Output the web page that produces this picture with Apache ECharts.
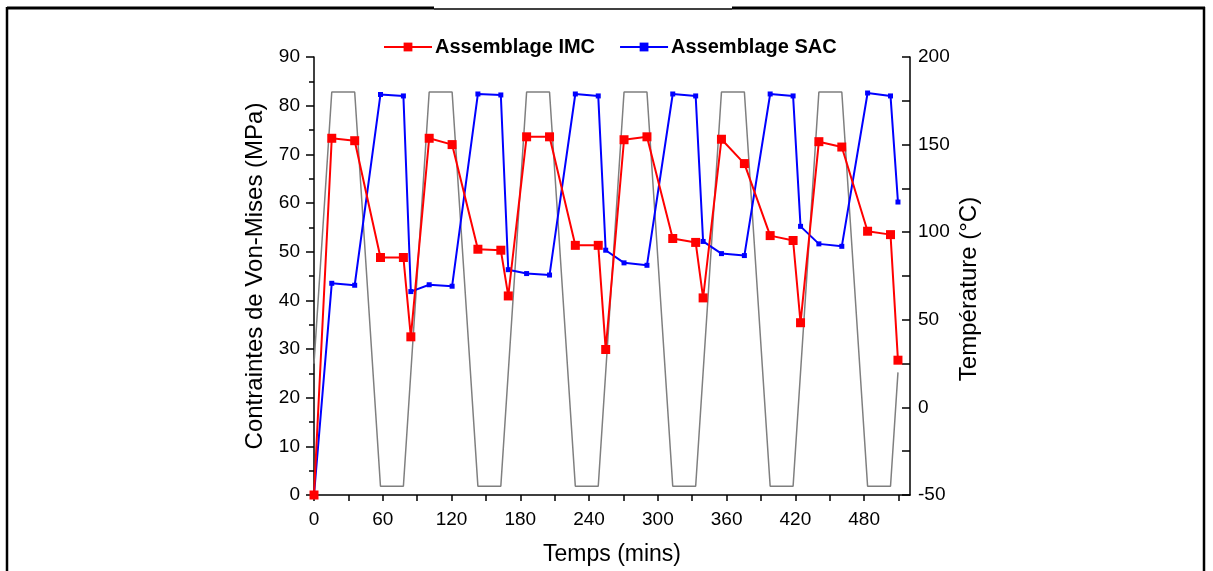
<!DOCTYPE html>
<html>
<head>
<meta charset="utf-8">
<script src="https://cdn.jsdelivr.net/npm/echarts@6/dist/echarts.min.js"></script>
<style>
  html, body { margin: 0; padding: 0; background: #ffffff; }
  #chart { width: 1213px; height: 571px; }
</style>
</head>
<body>
<div id="chart"></div>
<script>
// temps des mesures (mins)
var sampleTime = [0, 15.5, 35.5, 58, 78, 84.5, 100.5, 120.5, 143, 163, 169.5, 185.5, 205.5, 228, 248, 254.5,
  270.5, 290.5, 313, 333, 339.5, 355.5, 375.5, 398, 418, 424.5, 440.5, 460.5, 483, 503, 509.5];
// contraintes de Von-Mises (MPa)
var imcValues = [0, 73.3, 72.8, 48.8, 48.8, 32.5, 73.3, 72.0, 50.5, 50.3, 40.9, 73.6, 73.6, 51.3, 51.3, 29.9,
  73.0, 73.6, 52.7, 51.9, 40.5, 73.1, 68.1, 53.3, 52.3, 35.4, 72.6, 71.5, 54.2, 53.5, 27.7];
var sacValues = [0, 43.5, 43.1, 82.3, 82.0, 41.8, 43.2, 42.9, 82.4, 82.2, 46.3, 45.5, 45.2, 82.4, 82.0, 50.3,
  47.7, 47.2, 82.4, 82.0, 52.1, 49.6, 49.2, 82.4, 82.0, 55.2, 51.6, 51.1, 82.6, 82.0, 60.2];
// profil de temperature (cycle thermique)
var tempTime = [0, 15.5, 35.5, 58, 78, 100.5, 120.5, 143, 163, 185.5, 205.5, 228, 248, 270.5, 290.5, 313, 333,
  355.5, 375.5, 398, 418, 440.5, 460.5, 483, 503, 509.5];
var tempValues = [25, 180, 180, -45, -45, 180, 180, -45, -45, 180, 180, -45, -45, 180, 180, -45, -45,
  180, 180, -45, -45, 180, 180, -45, -45, 20];

var seriesNames = ["Assemblage IMC", "Assemblage SAC"];

function pairs(xs, ys) {
  var out = [];
  for (var i = 0; i < xs.length; i++) out.push([xs[i], ys[i]]);
  return out;
}

var font = "'Liberation Sans', Arial, sans-serif";
var myChart = echarts.init(document.getElementById("chart"));

myChart.setOption({
  animation: false,
  backgroundColor: "#ffffff",
  grid: { left: 314, right: 303, top: 57, bottom: 69 },
  legend: {
    data: seriesNames,
    left: 383,
    top: 37,
    padding: 0,
    itemWidth: 48,
    itemHeight: 11,
    itemGap: 24,
    textStyle: { fontFamily: font, fontWeight: "bold", fontSize: 20, color: "#000", padding: [0, 0, 0, -2] }
  },
  xAxis: {
    type: "value",
    min: 0,
    max: 520,
    interval: 30,
    name: "Temps (mins)",
    nameLocation: "middle",
    nameGap: 48,
    nameTextStyle: { fontFamily: font, fontSize: 23, color: "#000" },
    axisLine: { onZero: false, lineStyle: { color: "#000", width: 1.5 } },
    axisTick: { length: 6, lineStyle: { color: "#000", width: 1.5 } },
    axisLabel: {
      margin: 15,
      fontFamily: font,
      fontSize: 19,
      color: "#000",
      showMaxLabel: false,
      formatter: function (v) { return v % 60 === 0 ? String(v) : ""; }
    },
    splitLine: { show: false }
  },
  yAxis: [
    {
      type: "value",
      min: 0,
      max: 90,
      interval: 10,
      name: "Contraintes de Von-Mises (MPa)",
      nameLocation: "middle",
      nameGap: 47,
      nameTextStyle: { fontFamily: font, fontSize: 24, color: "#000" },
      axisLine: { show: true, lineStyle: { color: "#000", width: 1.5 } },
      axisTick: { length: 8, lineStyle: { color: "#000", width: 1.5 } },
      minorTick: { show: true, splitNumber: 2, length: 5, lineStyle: { color: "#000", width: 1.5 } },
      axisLabel: { margin: 14, fontFamily: font, fontSize: 19, color: "#000" },
      splitLine: { show: false }
    },
    {
      type: "value",
      position: "right",
      min: -50,
      max: 200,
      interval: 25,
      name: "Température (°C)",
      nameLocation: "middle",
      nameGap: 47,
      nameTextStyle: { fontFamily: font, fontSize: 24, color: "#000", padding: [0, 26, 0, 0] },
      axisLine: { show: true, lineStyle: { color: "#000", width: 1.5 } },
      axisTick: { inside: true, length: 8, lineStyle: { color: "#000", width: 1.5 } },
      axisLabel: {
        margin: 8,
        fontFamily: font,
        fontSize: 19,
        color: "#000",
        formatter: function (v) { return v % 50 === 0 ? String(v) : ""; }
      },
      splitLine: { show: false }
    }
  ],
  series: [
    {
      name: "Température",
      type: "line",
      yAxisIndex: 1,
      data: pairs(tempTime, tempValues),
      showSymbol: false,
      symbol: "none",
      lineStyle: { color: "#7f7f7f", width: 1.5 },
      z: 1
    },
    {
      name: seriesNames[0],
      type: "line",
      data: pairs(sampleTime, imcValues),
      symbol: "rect",
      symbolSize: 9,
      itemStyle: { color: "#ff0000" },
      lineStyle: { color: "#ff0000", width: 2 },
      z: 3
    },
    {
      name: seriesNames[1],
      type: "line",
      data: pairs(sampleTime, sacValues),
      symbol: "rect",
      symbolSize: 5,
      itemStyle: { color: "#0000ff" },
      lineStyle: { color: "#0000ff", width: 2 },
      z: 2
    }
  ],
  graphic: [
    { type: "line", shape: { x1: 7, y1: 8, x2: 434, y2: 8 }, style: { stroke: "#000", lineWidth: 3 } },
    { type: "line", shape: { x1: 434, y1: 9, x2: 732, y2: 9 }, style: { stroke: "#000", lineWidth: 1.5 } },
    { type: "line", shape: { x1: 732, y1: 8, x2: 1205, y2: 8 }, style: { stroke: "#000", lineWidth: 3 } },
    { type: "line", shape: { x1: 7, y1: 7, x2: 7, y2: 571 }, style: { stroke: "#000", lineWidth: 2.5 } },
    { type: "line", shape: { x1: 1204, y1: 7, x2: 1204, y2: 571 }, style: { stroke: "#000", lineWidth: 2.5 } }
  ]
});
</script>
</body>
</html>
